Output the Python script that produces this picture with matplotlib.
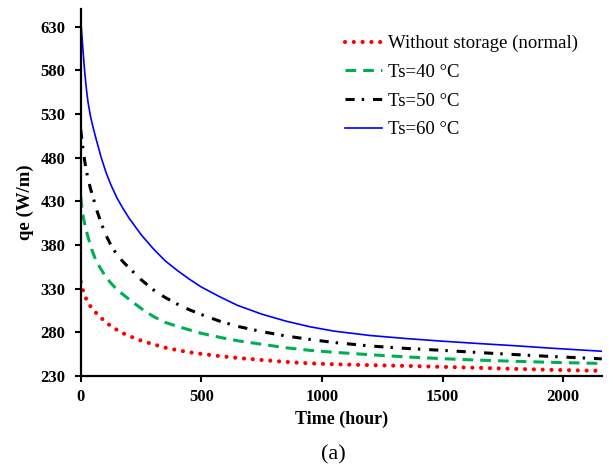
import matplotlib
matplotlib.use('Agg')
import matplotlib.pyplot as plt

plt.rcParams['font.family'] = ['Liberation Serif', 'DejaVu Serif']

# time (hour) and qe (W/m)
time_h = [0, 5, 10, 15, 20, 25, 30, 40, 50, 65, 85, 105, 125, 150, 175, 200, 250, 300, 350, 400,
          450, 500, 575, 650, 750, 850, 950, 1050, 1200, 1350, 1500, 1650, 1800, 1950, 2160]
qe_normal = [338, 332, 327.5, 323.5, 320, 317, 314.5, 310, 306.5, 302, 296.5, 291.5, 287.3, 283, 279.2, 276,
             270.7, 266.5, 262.6, 259.8, 257.3, 255.5, 253, 250.8, 248.5, 246.3, 244.6, 243.6, 242.6, 241.7,
             240.6, 239.5, 238.3, 237.2, 236]
qe_ts40 = [435, 423, 413, 406, 400, 394.5, 389.5, 380, 371.5, 361, 352, 343, 336.5, 329, 323.5, 318,
           307.5, 298.5, 291.5, 287, 283, 279, 274.5, 270.5, 266.5, 262.5, 259.5, 257.3, 254.5, 252,
           250, 248.3, 247, 245.8, 244.5]
qe_ts50 = [512, 500, 489, 479, 470, 463, 456, 445, 436, 421, 405, 391, 380, 369, 361, 354,
           340.5, 329, 320, 312.5, 306, 300.5, 293, 287, 281, 276, 272, 268.5, 264.5, 261.7,
           259.5, 257, 254.7, 252.5, 249.8]
qe_ts60 = [638, 619, 601, 583, 568, 555, 544, 528, 516, 500, 480, 463, 449, 434, 422, 411,
           392, 376, 362, 351, 341, 332, 321, 311, 301, 293, 286.5, 281.5, 276.5, 273,
           270, 267.3, 264.8, 262, 258.5]

labels = ['Without storage (normal)', 'Ts=40 \u00b0C', 'Ts=50 \u00b0C', 'Ts=60 \u00b0C']
y_ticks = [230, 280, 330, 380, 430, 480, 530, 580, 630]
x_ticks = [0, 500, 1000, 1500, 2000]

fig = plt.figure(figsize=(6.13, 4.69), dpi=100)
ax = fig.add_axes([0.1317, 0.198, 0.85, 0.7825])

ax.plot(time_h, qe_normal, color='#FF0000', lw=3, linestyle=(0, (0.01, 2.1)),
        dash_capstyle='round', label=labels[0])
ax.plot(time_h, qe_ts40, color='#00B050', lw=2.2, linestyle=(0, (3.5, 2.3)), label=labels[1])
ax.plot(time_h, qe_ts50, color='black', lw=2.2, linestyle=(0, (3, 2.3, 0.8, 2.9)), label=labels[2])
ax.plot(time_h, qe_ts60, color='#0000FF', lw=1.2, label=labels[3])

ax.set_xlim(0, 2160)
ax.set_ylim(230, 650)
ax.set_xticks(x_ticks)
ax.set_yticks(y_ticks)

for s in ['top', 'right']:
    ax.spines[s].set_visible(False)
for s in ['left', 'bottom']:
    ax.spines[s].set_linewidth(1.6)
ax.tick_params(axis='both', direction='out', length=4, width=1.5, labelsize=12)
ax.tick_params(axis='y', pad=7)
ax.tick_params(axis='x', pad=5)
for lab in ax.get_xticklabels() + ax.get_yticklabels():
    lab.set_fontweight('bold')

ax.set_xlabel('Time (hour)', fontsize=13, fontweight='bold')
ax.set_ylabel('qe (W/m)', fontsize=13.5, fontweight='bold')
ax.xaxis.set_label_coords(0.5, -0.093)
ax.yaxis.set_label_coords(-0.09, 0.473)

ax.legend(loc='upper left', bbox_to_anchor=(0.507, 0.93), frameon=False, fontsize=13.5,
          handlelength=2.0, handletextpad=0.3, labelspacing=0.62, borderaxespad=0, borderpad=0)

fig.text(333.5 / 613, 1 - 455 / 469, '(a)', ha='center', va='center', fontsize=16)

fig.savefig('out.png', dpi=100)
